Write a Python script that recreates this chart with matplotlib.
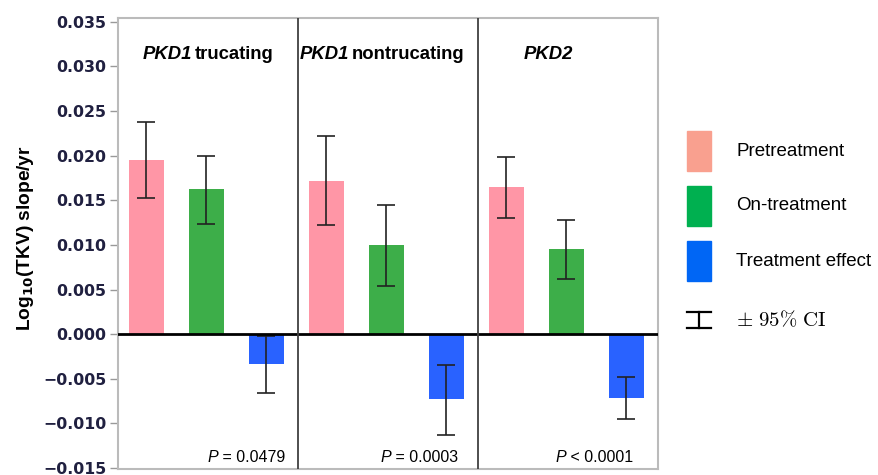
import matplotlib
matplotlib.use("Agg")
import matplotlib.pyplot as plt
from matplotlib.patches import Rectangle
import numpy as np

# ---- data ----
groups = ["PKD1 trucating", "PKD1 nontrucating", "PKD2"]
series = ["Pretreatment", "On-treatment", "Treatment effect"]
pre = [0.0195, 0.0172, 0.0165]
pre_lo = [0.0153, 0.0122, 0.0130]
pre_hi = [0.0238, 0.0222, 0.0199]
on = [0.0163, 0.0100, 0.0095]
on_lo = [0.0123, 0.0054, 0.0062]
on_hi = [0.0200, 0.0145, 0.0128]
eff = [-0.0033, -0.0073, -0.0071]
eff_lo = [-0.0066, -0.0113, -0.0095]
eff_hi = [-0.0002, -0.0034, -0.0048]
pvals = ["0.0479", "0.0003", "0.0001"]
prel = ["=", "=", "<"]
yticks = [-0.015, -0.010, -0.005, 0.000, 0.005, 0.010, 0.015, 0.020, 0.025, 0.030, 0.035]

bar_colors = ["#FF96A6", "#3DAE49", "#2962FF"]
leg_colors = ["#F9A08F", "#00B050", "#0066F5"]

W, H = 879, 475
fig = plt.figure(figsize=(W / 100, H / 100), dpi=100)
ax = fig.add_axes([117.7 / W, 1 - 469 / H, (657.5 - 117.7) / W, (469 - 18.3) / H])

vals = [pre, on, eff]
los = [pre_lo, on_lo, eff_lo]
his = [pre_hi, on_hi, eff_hi]
for i in range(3):
    x = np.arange(3) * 3 + i + 0.48
    v = np.array(vals[i])
    lo = np.array(los[i])
    hi = np.array(his[i])
    ax.bar(x, v, width=0.575, color=bar_colors[i], zorder=2)
    ax.errorbar(x, v, yerr=[v - lo, hi - v], fmt="none", ecolor="#222222",
                elinewidth=1.2, capsize=6.5, capthick=1.2, zorder=3)

ax.axhline(0, color="black", lw=2, zorder=4)
for xd in [3, 6]:
    ax.axvline(xd, color="#404040", lw=1.3, zorder=5)

ax.set_xlim(0, 9)
ax.set_ylim(-0.0151, 0.0354)
ax.set_xticks([])
ax.set_yticks(yticks)
ax.set_yticklabels([f"{t:.3f}".replace("-", "\u2212") for t in yticks],
                   fontsize=11.3, fontweight="bold", color="#202040",
                   family="DejaVu Sans")
ax.tick_params(axis="y", length=6, width=1, color="#999999", pad=2)
for s in ax.spines.values():
    s.set_color("#BBBBBB")
    s.set_linewidth(1.5)

# panel titles
title_font = dict(fontsize=13.3, family="Liberation Sans", weight="bold",
                  va="baseline")
title_left_px = [143, 300, 524]
title_parts = [("PKD1", "trucating"), ("PKD1", "nontrucating"), ("PKD2", "")]
for (it, rest), lp in zip(title_parts, title_left_px):
    t1 = ax.text((lp - 117.7) / 60, 0, it, style="italic",
                 transform=matplotlib.transforms.blended_transform_factory(ax.transData, fig.transFigure),
                 **title_font)
    t1.set_y(1 - 59 / H)
    if rest:
        ax.annotate(rest, xy=(1, 0), xycoords=t1, xytext=(1.5, 0),
                    textcoords="offset points", fontsize=13.3,
                    family="Liberation Sans", weight="bold", va="bottom")

# p values
p_right_px = [285, 458, 633]
for pv, rel, rp in zip(pvals, prel, p_right_px):
    tt = fig.text(rp / W, 1 - 461.5 / H, f" {rel} {pv}", fontsize=11.5,
                  family="Liberation Sans", ha="right", va="baseline")
    ax.annotate("P", xy=(0, 0), xycoords=tt, ha="right", va="bottom",
                fontsize=11.5, family="Liberation Sans", style="italic")

# y label
fig.text(26 / W, 1 - 238 / H, r"Log$_{\mathbf{10}}$(TKV) slope/yr", rotation=90,
         fontsize=13.8, family="Liberation Sans", weight="bold",
         ha="center", va="center")

# legend
lax = fig.add_axes([0, 0, 1, 1], zorder=-1)
lax.set_xlim(0, W)
lax.set_ylim(H, 0)
lax.axis("off")
box_tops = [131, 186, 241]
for c, lab, yt in zip(leg_colors, series, box_tops):
    lax.add_patch(Rectangle((687, yt), 24, 40, color=c))
    lax.text(736.5, yt + 20, lab, fontsize=13.5, family="Liberation Sans",
             va="center", ha="left")
lax.plot([687, 711], [312, 312], color="black", lw=1.6)
lax.plot([687, 711], [328, 328], color="black", lw=1.6)
lax.plot([699, 699], [312, 328], color="black", lw=1.6)
lax.text(736.5, 320, r"$\pm\ 95\%\ \mathrm{CI}$", fontsize=15,
         math_fontfamily="cm", va="center", ha="left")

fig.savefig("out.png", dpi=100)
